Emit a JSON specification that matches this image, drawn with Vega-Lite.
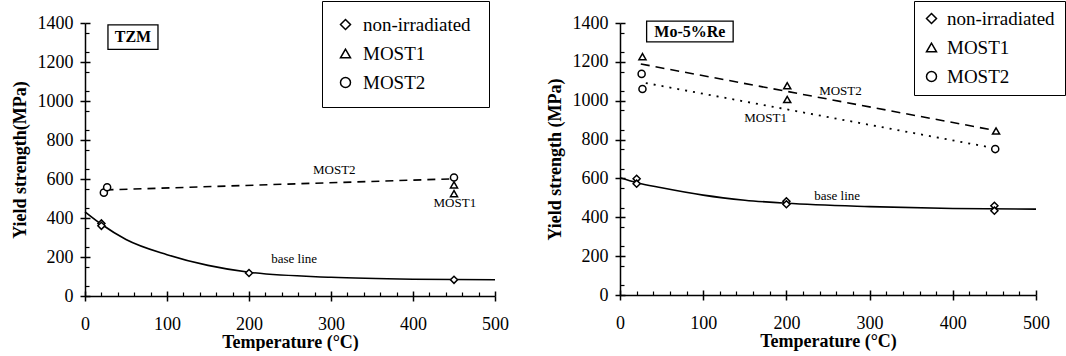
{
  "$schema": "https://vega.github.io/schema/vega-lite/v6.json",
  "padding": {"left": 11, "top": 0, "right": 0, "bottom": 0},
  "spacing": 37,
  "config": {
    "view": {"stroke": null},
    "font": "Liberation Serif",
    "axis": {
      "grid": false,
      "domainColor": "black",
      "domainWidth": 1.5,
      "tickColor": "black",
      "tickWidth": 1.5,
      "format": "d",
      "labelFont": "Liberation Serif",
      "labelFontWeight": "normal",
      "labelFontSize": 18,
      "labelColor": "black",
      "labelFlush": false,
      "titleFont": "Liberation Serif",
      "titleFontWeight": "bold",
      "titleFontSize": 18,
      "titleColor": "black"
    },
    "legend": {
      "orient": "none",
      "strokeColor": "black",
      "padding": 13,
      "labelFont": "Liberation Serif",
      "labelFontSize": 19,
      "labelColor": "black",
      "rowPadding": 9,
      "labelOffset": 8,
      "titleOrient": "right",
      "titleFontSize": 19,
      "titlePadding": 0
    }
  },
  "datasets": {
    "tzm_base": [
      {"T": 0, "Y": 432}, {"T": 20, "Y": 368}, {"T": 50, "Y": 290}, {"T": 100, "Y": 212},
      {"T": 150, "Y": 157}, {"T": 200, "Y": 122}, {"T": 300, "Y": 96}, {"T": 400, "Y": 86}, {"T": 500, "Y": 83}
    ],
    "tzm_most2": [{"T": 25, "Y": 544}, {"T": 450, "Y": 601}],
    "tzm_points": [
      {"T": 20, "Y": 372, "series": "non-irradiated"},
      {"T": 20, "Y": 360, "series": "non-irradiated"},
      {"T": 200, "Y": 118, "series": "non-irradiated"},
      {"T": 450, "Y": 83, "series": "non-irradiated"},
      {"T": 450, "Y": 570, "series": "MOST1"},
      {"T": 450, "Y": 525, "series": "MOST1"},
      {"T": 23, "Y": 530, "series": "MOST2"},
      {"T": 27, "Y": 558, "series": "MOST2"},
      {"T": 450, "Y": 608, "series": "MOST2"}
    ],
    "tzm_labels": [
      {"T": 304, "Y": 644, "label": "MOST2"},
      {"T": 451, "Y": 475, "label": "MOST1"},
      {"T": 255, "Y": 191, "label": "base line"}
    ],
    "tzm_box": [{"T1": 28, "T2": 89, "Y1": 1265, "Y2": 1390, "Tc": 58.5, "Yc": 1328, "label": "TZM"}],
    "mo_base": [
      {"T": 0, "Y": 603}, {"T": 20, "Y": 578}, {"T": 50, "Y": 552}, {"T": 100, "Y": 514},
      {"T": 150, "Y": 488}, {"T": 200, "Y": 472}, {"T": 300, "Y": 455}, {"T": 400, "Y": 445}, {"T": 500, "Y": 442}
    ],
    "mo_dashed": [{"T": 25, "Y": 1189}, {"T": 452, "Y": 846}],
    "mo_dotted": [{"T": 31, "Y": 1091}, {"T": 446, "Y": 759}],
    "mo_points": [
      {"T": 20, "Y": 598, "series": "non-irradiated"},
      {"T": 20, "Y": 573, "series": "non-irradiated"},
      {"T": 200, "Y": 482, "series": "non-irradiated"},
      {"T": 200, "Y": 467, "series": "non-irradiated"},
      {"T": 450, "Y": 459, "series": "non-irradiated"},
      {"T": 450, "Y": 434, "series": "non-irradiated"},
      {"T": 27, "Y": 1227, "series": "MOST1"},
      {"T": 201, "Y": 1077, "series": "MOST1"},
      {"T": 201, "Y": 1006, "series": "MOST1"},
      {"T": 452, "Y": 844, "series": "MOST1"},
      {"T": 26, "Y": 1138, "series": "MOST2"},
      {"T": 27, "Y": 1060, "series": "MOST2"},
      {"T": 451, "Y": 751, "series": "MOST2"}
    ],
    "mo_labels": [
      {"T": 265, "Y": 1048, "label": "MOST2"},
      {"T": 175, "Y": 912, "label": "MOST1"},
      {"T": 261, "Y": 512, "label": "base line"}
    ],
    "mo_box": [{"T1": 32, "T2": 136, "Y1": 1303, "Y2": 1410, "Tc": 84, "Yc": 1356, "label": "Mo-5%Re"}]
  },
  "hconcat": [
    {
      "width": 410,
      "height": 273,
      "resolve": {"axis": {"x": "independent", "y": "independent"}},
      "layer": [
        {
          "data": {"name": "tzm_base"},
          "mark": {"type": "line", "interpolate": "monotone", "color": "black", "strokeWidth": 1.6},
          "encoding": {
            "x": {"field": "T", "type": "quantitative", "scale": {"domain": [0, 500], "nice": false},
              "axis": {"orient": "bottom", "values": [0, 100, 200, 300, 400, 500], "tickSize": 5, "labelPadding": 14, "title": "Temperature (°C)", "titlePadding": 0}},
            "y": {"field": "Y", "type": "quantitative", "scale": {"domain": [0, 1400], "nice": false},
              "axis": {"orient": "left", "values": [0, 200, 400, 600, 800, 1000, 1200, 1400], "tickSize": 5, "labelPadding": 7, "title": "Yield strength(MPa)", "titlePadding": 8}}
          }
        },
        {
          "data": {"name": "tzm_most2"},
          "mark": {"type": "line", "color": "black", "strokeWidth": 1.6, "strokeDash": [8, 6]},
          "encoding": {
            "x": {"field": "T", "type": "quantitative",
              "axis": {"orient": "bottom", "values": [0, 100, 200, 300, 400, 500], "tickSize": -5, "labels": false, "domain": false, "title": null}},
            "y": {"field": "Y", "type": "quantitative",
              "axis": {"orient": "left", "values": [0, 200, 400, 600, 800, 1000, 1200, 1400], "tickSize": -5, "labels": false, "domain": false, "title": null}}
          }
        },
        {
          "data": {"name": "tzm_points"},
          "mark": {"type": "point", "filled": false, "color": "black", "fill": "white", "fillOpacity": 1, "strokeWidth": 1.5, "size": 50, "opacity": 1},
          "encoding": {
            "x": {"field": "T", "type": "quantitative",
              "axis": {"orient": "bottom", "values": [20, 40, 60, 80, 120, 140, 160, 180, 220, 240, 260, 280, 320, 340, 360, 380, 420, 440, 460, 480], "tickSize": -4, "tickWidth": 1.2, "labels": false, "domain": false, "title": null}},
            "y": {"field": "Y", "type": "quantitative",
              "axis": {"orient": "left", "values": [50, 150, 250, 350, 450, 550, 650, 750, 850, 950, 1050, 1150, 1250, 1350], "tickSize": -4, "tickWidth": 1.2, "labels": false, "domain": false, "title": null}},
            "shape": {"field": "series", "type": "nominal",
              "scale": {"domain": ["non-irradiated", "MOST1", "MOST2"], "range": ["diamond", "triangle-up", "circle"]},
              "legend": {"legendX": 237, "legendY": -22, "padding": 14, "title": "\u00a0\u00a0\u00a0\u00a0\u00a0", "titlePadding": 4,
                "encode": {"symbols": {"update": {"size": {"value": 55}, "stroke": {"value": "black"}, "fill": {"value": "white"}, "strokeWidth": {"value": 1.5}, "opacity": {"value": 1}, "fillOpacity": {"value": 1}, "strokeOpacity": {"value": 1}}}}}}
          }
        },
        {
          "data": {"name": "tzm_labels"},
          "mark": {"type": "text", "font": "Liberation Serif", "fontSize": 13, "color": "black"},
          "encoding": {
            "x": {"field": "T", "type": "quantitative", "axis": null},
            "y": {"field": "Y", "type": "quantitative", "axis": null},
            "text": {"field": "label"}
          }
        },
        {
          "data": {"name": "tzm_box"},
          "mark": {"type": "rect", "fill": "white", "stroke": "black", "strokeWidth": 1.3},
          "encoding": {
            "x": {"field": "T1", "type": "quantitative", "axis": null},
            "x2": {"field": "T2"},
            "y": {"field": "Y1", "type": "quantitative", "axis": null},
            "y2": {"field": "Y2"}
          }
        },
        {
          "data": {"name": "tzm_box"},
          "mark": {"type": "text", "font": "Liberation Serif", "fontWeight": "bold", "fontSize": 16, "color": "black"},
          "encoding": {
            "x": {"field": "Tc", "type": "quantitative", "axis": null},
            "y": {"field": "Yc", "type": "quantitative", "axis": null},
            "text": {"field": "label"}
          }
        }
      ]
    },
    {
      "width": 416,
      "height": 272,
      "resolve": {"axis": {"x": "independent", "y": "independent"}},
      "layer": [
        {
          "data": {"name": "mo_base"},
          "mark": {"type": "line", "interpolate": "monotone", "color": "black", "strokeWidth": 1.6},
          "encoding": {
            "x": {"field": "T", "type": "quantitative", "scale": {"domain": [0, 500], "nice": false},
              "axis": {"orient": "bottom", "values": [0, 100, 200, 300, 400, 500], "tickSize": 5, "labelPadding": 14, "title": "Temperature (°C)", "titlePadding": 0}},
            "y": {"field": "Y", "type": "quantitative", "scale": {"domain": [0, 1400], "nice": false},
              "axis": {"orient": "left", "values": [0, 200, 400, 600, 800, 1000, 1200, 1400], "tickSize": 5, "labelPadding": 7, "title": "Yield strength (MPa)", "titlePadding": 8}}
          }
        },
        {
          "data": {"name": "mo_dashed"},
          "mark": {"type": "line", "color": "black", "strokeWidth": 1.6, "strokeDash": [9, 6]},
          "encoding": {
            "x": {"field": "T", "type": "quantitative",
              "axis": {"orient": "bottom", "values": [0, 100, 200, 300, 400, 500], "tickSize": -5, "labels": false, "domain": false, "title": null}},
            "y": {"field": "Y", "type": "quantitative",
              "axis": {"orient": "left", "values": [0, 200, 400, 600, 800, 1000, 1200, 1400], "tickSize": -5, "labels": false, "domain": false, "title": null}}
          }
        },
        {
          "data": {"name": "mo_dotted"},
          "mark": {"type": "line", "color": "black", "strokeWidth": 1.8, "strokeDash": [2, 6]},
          "encoding": {
            "x": {"field": "T", "type": "quantitative", "axis": null},
            "y": {"field": "Y", "type": "quantitative", "axis": null}
          }
        },
        {
          "data": {"name": "mo_points"},
          "mark": {"type": "point", "filled": false, "color": "black", "fill": "white", "fillOpacity": 1, "strokeWidth": 1.5, "size": 50, "opacity": 1},
          "encoding": {
            "x": {"field": "T", "type": "quantitative",
              "axis": {"orient": "bottom", "values": [20, 40, 60, 80, 120, 140, 160, 180, 220, 240, 260, 280, 320, 340, 360, 380, 420, 440, 460, 480], "tickSize": -4, "tickWidth": 1.2, "labels": false, "domain": false, "title": null}},
            "y": {"field": "Y", "type": "quantitative",
              "axis": {"orient": "left", "values": [50, 150, 250, 350, 450, 550, 650, 750, 850, 950, 1050, 1150, 1250, 1350], "tickSize": -4, "tickWidth": 1.2, "labels": false, "domain": false, "title": null}},
            "shape": {"field": "series", "type": "nominal",
              "scale": {"domain": ["non-irradiated", "MOST1", "MOST2"], "range": ["diamond", "triangle-up", "circle"]},
              "legend": {"legendX": 294, "legendY": -22, "padding": 8, "labelOffset": 6, "title": "\u00a0\u00a0", "titlePadding": 2,
                "encode": {"symbols": {"update": {"size": {"value": 55}, "stroke": {"value": "black"}, "fill": {"value": "white"}, "strokeWidth": {"value": 1.5}, "opacity": {"value": 1}, "fillOpacity": {"value": 1}, "strokeOpacity": {"value": 1}}}}}}
          }
        },
        {
          "data": {"name": "mo_labels"},
          "mark": {"type": "text", "font": "Liberation Serif", "fontSize": 13, "color": "black"},
          "encoding": {
            "x": {"field": "T", "type": "quantitative", "axis": null},
            "y": {"field": "Y", "type": "quantitative", "axis": null},
            "text": {"field": "label"}
          }
        },
        {
          "data": {"name": "mo_box"},
          "mark": {"type": "rect", "fill": "white", "stroke": "black", "strokeWidth": 1.3},
          "encoding": {
            "x": {"field": "T1", "type": "quantitative", "axis": null},
            "x2": {"field": "T2"},
            "y": {"field": "Y1", "type": "quantitative", "axis": null},
            "y2": {"field": "Y2"}
          }
        },
        {
          "data": {"name": "mo_box"},
          "mark": {"type": "text", "font": "Liberation Serif", "fontWeight": "bold", "fontSize": 16, "color": "black"},
          "encoding": {
            "x": {"field": "Tc", "type": "quantitative", "axis": null},
            "y": {"field": "Yc", "type": "quantitative", "axis": null},
            "text": {"field": "label"}
          }
        }
      ]
    }
  ],
  "resolve": {"scale": {"shape": "independent"}, "legend": {"shape": "independent"}}
}
